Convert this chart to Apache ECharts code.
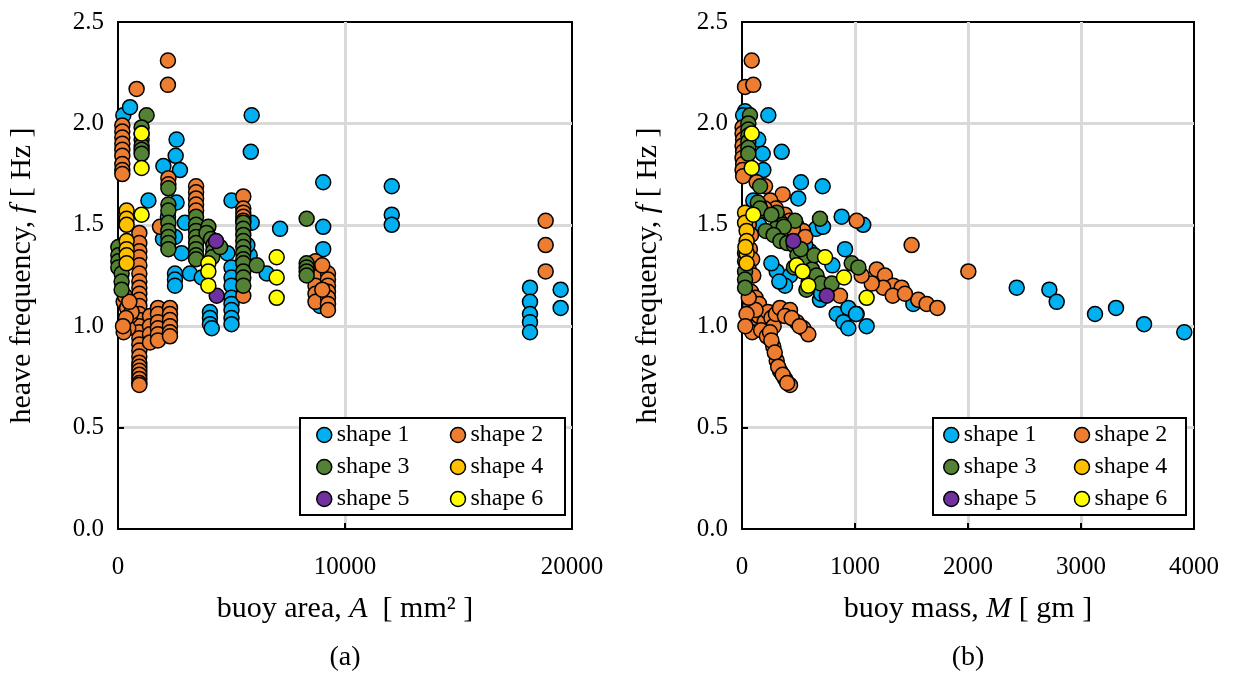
<!DOCTYPE html>
<html>
<head>
<meta charset="utf-8">
<script src="https://cdn.jsdelivr.net/npm/echarts@6/dist/echarts.min.js"></script>
<style>
  html, body { margin: 0; padding: 0; background: #fff; }
  #chart { width: 1233px; height: 674px; }
</style>
</head>
<body>
<div id="chart"></div>
<script>
// series names + colours (Excel palette)
const shapeNames = ["shape 1", "shape 2", "shape 3", "shape 4", "shape 5", "shape 6"];
const shapeColors = ["#00b0f0", "#ed7d31", "#548235", "#ffc000", "#7030a0", "#ffff00"];

// (a) buoy area A [mm2] vs heave frequency f [Hz]
const areaShape1 = [
  [235, 2.04], [530, 2.08], [1340, 1.62], [2000, 1.79], [2540, 1.84], [2580, 1.92], [2730, 1.77],
  [5890, 2.04], [5850, 1.86], [5000, 1.62], [7140, 1.48], [9040, 1.71], [9040, 1.49], [9040, 1.38],
  [12060, 1.69], [12060, 1.55], [12060, 1.50],
  [2580, 1.61], [2950, 1.51], [2510, 1.44], [2800, 1.36], [1980, 1.43], [2200, 1.54],
  [2510, 1.26], [2510, 1.23], [2510, 1.20], [3170, 1.26], [3690, 1.24],
  [4050, 1.07], [4050, 1.04], [4050, 1.01], [4130, 0.99],
  [4820, 1.36], [5000, 1.29], [5000, 1.24], [5000, 1.20], [5000, 1.14], [5000, 1.11], [5000, 1.08],
  [5000, 1.04], [5000, 1.01], [5890, 1.51], [5800, 1.35],
  [6550, 1.26], [8900, 1.10], [5700, 1.40],
  [18150, 1.19], [18150, 1.12], [18150, 1.06], [18150, 1.02], [18150, 0.97], [19500, 1.18], [19500, 1.09]
];
const areaShape2 = [
  [190, 1.99], [190, 1.96], [190, 1.93], [190, 1.90], [190, 1.87], [190, 1.84], [190, 1.80], [190, 1.77], [190, 1.75],
  [820, 2.17], [2200, 2.31], [2200, 2.19], [2220, 1.73], [2220, 1.70], [1850, 1.49],
  [3440, 1.69], [3440, 1.66], [3440, 1.63], [3440, 1.60], [3440, 1.57],
  [5520, 1.64], [5520, 1.58], [5520, 1.56], [5520, 1.54], [5520, 1.52], [5520, 1.15],
  [940, 1.46], [940, 1.41], [940, 1.37], [940, 1.34], [940, 1.30], [940, 1.26], [940, 1.22], [940, 1.19],
  [940, 1.16], [940, 1.13], [940, 1.10], [940, 1.06], [940, 1.03], [940, 1.00], [940, 0.97], [940, 0.94],
  [940, 0.91], [940, 0.88], [940, 0.85], [940, 0.82], [940, 0.80], [940, 0.78], [940, 0.76], [940, 0.74],
  [940, 0.72], [940, 0.71],
  [250, 1.12], [400, 1.09], [530, 1.05], [300, 1.02], [450, 0.99], [250, 0.97], [600, 1.07], [350, 1.04],
  [220, 1.00], [300, 1.15], [500, 1.12],
  [1410, 1.05], [1410, 1.00], [1410, 0.96], [1410, 0.92],
  [1760, 1.09], [1760, 1.06], [1760, 1.02], [1760, 0.99], [1760, 0.96], [1760, 0.93],
  [2290, 1.09], [2290, 1.06], [2290, 1.03], [2290, 1.00], [2290, 0.97], [2290, 0.95],
  [18840, 1.52], [18840, 1.40], [18840, 1.27],
  [8700, 1.32], [8700, 1.28], [8700, 1.24], [8700, 1.20], [8700, 1.16], [8700, 1.12],
  [9250, 1.26], [9250, 1.23], [9250, 1.20], [9250, 1.17], [9250, 1.14], [9250, 1.11], [9250, 1.08],
  [9000, 1.30], [9000, 1.18]
];
const areaShape3 = [
  [1260, 2.04], [1040, 1.98], [1040, 1.95], [1040, 1.92], [1040, 1.89], [1040, 1.87], [1040, 1.85],
  [2220, 1.68], [2220, 1.60], [2220, 1.57], [2220, 1.51], [2220, 1.47], [2220, 1.44], [2220, 1.41], [2220, 1.38],
  [3440, 1.54], [3440, 1.50], [3440, 1.47], [3440, 1.44], [3440, 1.41], [3440, 1.38], [3440, 1.35], [3440, 1.33],
  [5520, 1.51], [5520, 1.48], [5520, 1.45], [5520, 1.42], [5520, 1.39], [5520, 1.36], [5520, 1.33],
  [5520, 1.31], [5520, 1.27], [5520, 1.24], [5520, 1.20],
  [8310, 1.53], [8310, 1.31], [8310, 1.29], [8310, 1.27], [8310, 1.25],
  [15, 1.39], [15, 1.35], [15, 1.32], [15, 1.29], [160, 1.26], [160, 1.22], [160, 1.18],
  [3980, 1.49], [3900, 1.46], [4100, 1.43], [4200, 1.40], [4200, 1.37], [4150, 1.34], [4500, 1.39], [6110, 1.30]
];
const areaShape4 = [[380, 1.57], [380, 1.53], [380, 1.50], [380, 1.42], [380, 1.38], [380, 1.35], [380, 1.31]];
const areaShape5 = [[4320, 1.42], [4350, 1.15]];
const areaShape6 = [
  [1040, 1.95], [1040, 1.78], [1040, 1.55], [3980, 1.31], [3980, 1.27], [3980, 1.20],
  [6990, 1.34], [6990, 1.24], [6990, 1.14]
];

// (b) buoy mass M [gm] vs heave frequency f [Hz]
const massShape1 = [
  [27, 2.06], [10, 2.04], [233, 2.04], [144, 1.92], [183, 1.85], [351, 1.86], [189, 1.77], [522, 1.71],
  [714, 1.69], [498, 1.63], [100, 1.62], [882, 1.54], [1073, 1.50], [655, 1.48], [717, 1.49], [912, 1.38],
  [307, 1.27], [425, 1.25], [381, 1.20], [838, 1.06], [941, 1.09], [1015, 1.06], [897, 1.02], [941, 0.99],
  [1103, 1.00], [690, 1.13], [2431, 1.19], [2720, 1.18], [2785, 1.12], [3124, 1.06], [3310, 1.09],
  [3558, 1.01], [3914, 0.97], [1516, 1.11], [1009, 1.06], [600, 1.37], [520, 1.33], [780, 1.18],
  [700, 1.16], [640, 1.24], [470, 1.45], [260, 1.31], [330, 1.22], [560, 1.40], [150, 1.50], [800, 1.30]
];
const massShape2 = [
  [86, 2.31], [27, 2.18], [100, 2.19],
  [5, 1.98], [5, 1.95], [10, 1.92], [5, 1.89], [10, 1.86], [5, 1.83], [10, 1.80], [5, 1.77], [10, 1.74],
  [130, 1.71], [204, 1.69], [360, 1.65], [1015, 1.52], [1501, 1.40], [2003, 1.27],
  [1192, 1.28], [1265, 1.25], [1339, 1.20], [1413, 1.19], [1250, 1.19], [1148, 1.21], [1059, 1.25],
  [1560, 1.13], [1634, 1.11], [1729, 1.09], [1334, 1.15], [1442, 1.16], [867, 1.15],
  [80, 1.17], [120, 1.14], [70, 1.10], [150, 1.11], [100, 1.06], [180, 1.04], [60, 1.02], [130, 1.00],
  [210, 0.99], [90, 0.97],
  [150, 1.05], [200, 1.02], [230, 1.07], [260, 1.04], [280, 1.00], [170, 0.98], [300, 1.06], [220, 0.95],
  [120, 1.08], [60, 1.14], [40, 1.06], [30, 1.00],
  [248, 0.97], [277, 0.90], [307, 0.83], [336, 0.78], [381, 0.74], [425, 0.71], [260, 0.93], [290, 0.87],
  [320, 0.80], [360, 0.76], [400, 0.72],
  [336, 1.09], [425, 1.08], [484, 1.02], [543, 0.99], [587, 0.96], [380, 1.05], [440, 1.04], [510, 1.00],
  [250, 1.62], [300, 1.58], [380, 1.55], [420, 1.52], [480, 1.50], [540, 1.47], [200, 1.58], [330, 1.52],
  [450, 1.48], [560, 1.44], [150, 1.60],
  [60, 1.50], [80, 1.45], [70, 1.38], [90, 1.33], [60, 1.28], [100, 1.25]
];
const massShape3 = [
  [71, 2.04], [56, 2.00], [56, 1.97], [56, 1.94], [56, 1.91], [56, 1.88], [56, 1.85],
  [160, 1.69], [140, 1.61], [170, 1.57], [307, 1.56], [363, 1.50], [469, 1.52], [690, 1.53],
  [27, 1.27], [27, 1.23], [27, 1.19], [27, 1.36], [27, 1.32],
  [160, 1.58], [260, 1.55], [300, 1.48], [370, 1.49], [210, 1.47], [280, 1.45], [340, 1.42], [400, 1.41],
  [460, 1.40], [490, 1.35], [460, 1.29], [550, 1.27], [590, 1.22], [560, 1.32], [620, 1.28], [570, 1.18],
  [660, 1.25], [700, 1.21], [971, 1.31], [1030, 1.29], [794, 1.21], [520, 1.38], [640, 1.35]
];
const massShape4 = [[27, 1.56], [27, 1.51], [41, 1.47], [41, 1.42], [41, 1.36], [41, 1.31], [30, 1.39]];
const massShape5 = [[454, 1.42], [750, 1.15]];
const massShape6 = [
  [86, 1.95], [86, 1.78], [100, 1.55], [735, 1.34], [484, 1.30], [537, 1.27], [587, 1.20],
  [903, 1.24], [1103, 1.14]
];

const areaData = [areaShape1, areaShape2, areaShape3, areaShape4, areaShape5, areaShape6];
const massData = [massShape1, massShape2, massShape3, massShape4, massShape5, massShape6];

const FONT = "'Liberation Serif', 'Times New Roman', serif";
const tickFont = { fontFamily: FONT, fontSize: 25, color: "#000" };
const nameFont = {
  fontFamily: FONT, fontSize: 30, color: "#000",
  rich: { i: { fontFamily: FONT, fontSize: 30, fontStyle: "italic", color: "#000" } }
};

function xAxisOf(gridIndex, name, max, interval) {
  return {
    type: "value", gridIndex, min: 0, max, interval,
    name, nameLocation: "middle", nameGap: 65, nameTextStyle: nameFont,
    axisLine: { show: true, onZero: false, lineStyle: { color: "#000", width: 2 } },
    axisTick: { show: true, inside: true, length: 6, lineStyle: { color: "#000", width: 2 } },
    axisLabel: Object.assign({ margin: 26, formatter: v => String(v) }, tickFont),
    splitLine: { show: true, showMinLine: false, showMaxLine: false, lineStyle: { color: "#d9d9d9", width: 3 } }
  };
}
function yAxisOf(gridIndex, nameGap) {
  return {
    type: "value", gridIndex, min: 0, max: 2.5, interval: 0.5,
    name: "heave frequency, {i|f} [ Hz ]", nameLocation: "middle", nameGap, nameTextStyle: nameFont,
    axisLine: { show: true, onZero: false, lineStyle: { color: "#000", width: 2 } },
    axisTick: { show: true, inside: true, length: 6, lineStyle: { color: "#000", width: 2 } },
    axisLabel: Object.assign({ margin: 14, formatter: v => v.toFixed(1) }, tickFont),
    splitLine: { show: true, showMinLine: false, showMaxLine: false, lineStyle: { color: "#d9d9d9", width: 3 } }
  };
}

function scatterSeries(data, idx, axisIndex) {
  return {
    type: "scatter", name: shapeNames[idx], xAxisIndex: axisIndex, yAxisIndex: axisIndex,
    data, symbol: "circle", symbolSize: 15, z: 2 + idx,
    itemStyle: { color: shapeColors[idx], borderColor: "#000", borderWidth: 1.5, opacity: 1 },
    emphasis: { disabled: true }
  };
}

function legendOf(left, textWidth) {
  return {
    left, top: 419, width: 2 * (15 + 5 + textWidth) + 4, padding: 0, itemGap: 0,
    itemWidth: 15, itemHeight: 15, icon: "circle",
    itemStyle: { borderColor: "#000", borderWidth: 1.5 },
    textStyle: { fontFamily: FONT, fontSize: 24, color: "#000", width: textWidth, lineHeight: 32 },
    data: shapeNames
  };
}

const series = [];
areaData.forEach((d, i) => series.push(scatterSeries(d, i, 0)));
massData.forEach((d, i) => series.push(scatterSeries(d, i, 1)));

const chart = echarts.init(document.getElementById("chart"), null, { renderer: "canvas" });
chart.setOption({
  animation: false,
  backgroundColor: "#fff",
  grid: [
    { left: 118, top: 22, width: 454, height: 507, show: true, borderColor: "#000", borderWidth: 2, backgroundColor: "transparent" },
    { left: 742, top: 22, width: 452, height: 507, show: true, borderColor: "#000", borderWidth: 2, backgroundColor: "transparent" }
  ],
  xAxis: [
    xAxisOf(0, "buoy area, {i|A}  [ mm² ]", 20000, 10000),
    xAxisOf(1, "buoy mass, {i|M} [ gm ]", 4000, 1000)
  ],
  yAxis: [yAxisOf(0, 81), yAxisOf(1, 79)],
  legend: [legendOf(316, 113), legendOf(943, 110)],
  graphic: [
    { type: "rect", z: 3, shape: { x: 300, y: 418, width: 265, height: 97 }, style: { fill: "#fff", stroke: "#000", lineWidth: 2 } },
    { type: "rect", z: 3, shape: { x: 933, y: 418, width: 253, height: 97 }, style: { fill: "#fff", stroke: "#000", lineWidth: 2 } },
    { type: "text", x: 345, y: 658, style: { text: "(a)", fontFamily: FONT, fontSize: 28, fill: "#000", textAlign: "center", textVerticalAlign: "middle" } },
    { type: "text", x: 968, y: 658, style: { text: "(b)", fontFamily: FONT, fontSize: 28, fill: "#000", textAlign: "center", textVerticalAlign: "middle" } }
  ],
  series
});
</script>
</body>
</html>
